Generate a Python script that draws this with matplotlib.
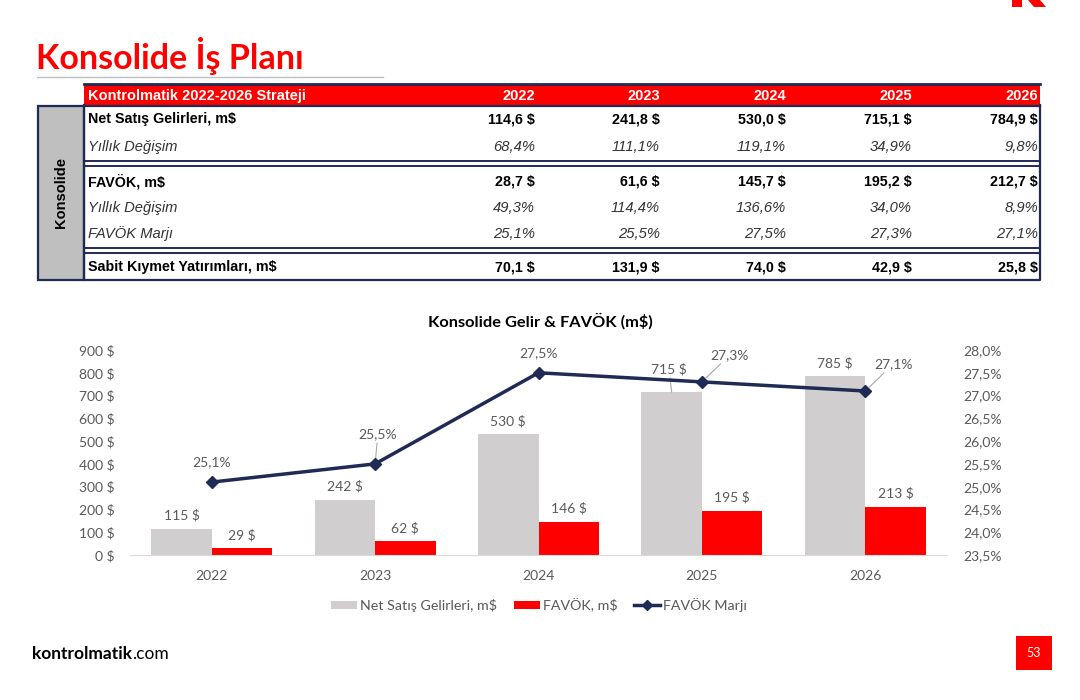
import matplotlib
matplotlib.use("Agg")
import matplotlib.pyplot as plt
from matplotlib.patches import Rectangle, Patch, Polygon
from matplotlib.lines import Line2D
from matplotlib.ticker import FuncFormatter, MultipleLocator
from matplotlib import transforms

# data
years = ["2022", "2023", "2024", "2025", "2026"]
revenue = [114.6, 241.8, 530.0, 715.1, 784.9]
rev_growth = [68.4, 111.1, 119.1, 34.9, 9.8]
favok = [28.7, 61.6, 145.7, 195.2, 212.7]
favok_growth = [49.3, 114.4, 136.6, 34.0, 8.9]
margin = [25.1, 25.5, 27.5, 27.3, 27.1]
capex = [70.1, 131.9, 74.0, 42.9, 25.8]

RED = "#FF0000"
NAVY = "#1F2A55"
GREY_BAR = "#D0CECE"
TXT = "#595959"


def tr(v, nd=1):
    return f"{v:.{nd}f}".replace(".", ",")


fig = plt.figure(figsize=(10.8, 7), dpi=100)
fig.patch.set_facecolor("white")

# slide layer in pixel coords
bg = fig.add_axes([0, 0, 1, 1])
bg.set_xlim(0, 1080)
bg.set_ylim(700, 0)
bg.axis("off")

# logo fragment top right
bg.add_patch(Polygon([[1012, 0], [1022, 0], [1022, 7], [1012, 7]], color=RED, lw=0))
bg.add_patch(Polygon([[1028, 0], [1040, 0], [1046, 7], [1034, 7]], color=RED, lw=0))

# title
bg.text(36, 56, "Konsolide İş Planı", color=RED, fontsize=24.5, fontweight="bold",
        family="Lato", va="center", ha="left")
bg.plot([37, 383], [77, 77], color="#BFBFBF", lw=1)

# ---- table ----
tf = "Liberation Sans"
x0, x1 = 84, 1040
bg.add_patch(Rectangle((x0, 84), x1 - x0, 21, facecolor=RED, edgecolor="none"))
bg.plot([x0, x1], [84, 84], color=NAVY, lw=2)
bg.text(x0 + 4, 96, "Kontrolmatik 2022-2026 Strateji", color="white", fontsize=10.5,
        fontweight="bold", family=tf, va="center")
col_right = [535, 660, 786, 912, 1038]
for xr, y in zip(col_right, years):
    bg.text(xr, 96, y, color="white", fontsize=10.5, fontweight="bold", family=tf,
            va="center", ha="right")

# left grey cell
bg.add_patch(Rectangle((38, 106), x0 - 38, 174, facecolor="#BFBFBF", edgecolor=NAVY, lw=1.6))
bg.text(61, 193, "Konsolide", rotation=90, fontsize=10.5, fontweight="bold", family=tf,
        va="center", ha="center")

# body borders
bg.plot([x0, x0, x1, x1], [105, 280, 280, 105], color=NAVY, lw=1.6)
bg.plot([x0, x1], [106, 106], color=NAVY, lw=1.6)
for ya, yb in [(160.5, 165.5), (247.5, 252.5)]:
    bg.plot([x0, x1], [ya, ya], color=NAVY, lw=1.4)
    bg.plot([x0, x1], [yb, yb], color=NAVY, lw=1.4)

rows = [
    ("Net Satış Gelirleri, m$", [tr(v) + " $" for v in revenue], 119, True),
    ("Yıllık Değişim", [tr(v) + "%" for v in rev_growth], 147, False),
    ("FAVÖK, m$", [tr(v) + " $" for v in favok], 182, True),
    ("Yıllık Değişim", [tr(v) + "%" for v in favok_growth], 208, False),
    ("FAVÖK Marjı", [tr(v) + "%" for v in margin], 234, False),
    ("Sabit Kıymet Yatırımları, m$", [tr(v) + " $" for v in capex], 267, True),
]
for label, vals, y, bold in rows:
    if bold:
        kw = dict(fontsize=10.3, family=tf, va="center", fontweight="bold", color="black")
    else:
        kw = dict(fontsize=10.6, family=tf, va="center", fontstyle="italic", color="#333333")
    bg.text(88, y, label, ha="left", **kw)
    for xr, s in zip(col_right, vals):
        bg.text(xr, y, s, ha="right", **kw)

# footer
t1 = bg.text(32, 654, "kontrolmatik", fontsize=12.5, fontweight="bold", family="Lato",
             va="center", ha="left")
fig.canvas.draw()
x_end = t1.get_window_extent().x1
bg.text(x_end, 654, ".com", fontsize=12.5, family="Lato", va="center", ha="left",
        transform=transforms.blended_transform_factory(
            transforms.IdentityTransform(), bg.transData))
bg.add_patch(Rectangle((1016, 636), 36, 34, facecolor=RED, edgecolor="none"))
bg.text(1034, 653, "53", color="white", fontsize=9, family="Lato", ha="center", va="center")

# ---- chart ----
L, R, B, T = 130, 947, 555, 350
ax = fig.add_axes([L / 1080, 1 - B / 700, (R - L) / 1080, (B - T) / 700])
ax.set_facecolor("none")
xs = list(range(len(years)))
w = 0.37
ax.bar([x - w / 2 for x in xs], revenue, width=w, color=GREY_BAR, zorder=2)
ax.bar([x + w / 2 for x in xs], favok, width=w, color=RED, zorder=2)
ax.set_xlim(-0.5, 4.5)
ax.set_ylim(0, 900)
ax.yaxis.set_major_locator(MultipleLocator(100))
ax.yaxis.set_major_formatter(FuncFormatter(lambda v, p: f"{v:.0f} $"))
ax.set_xticks(xs)
ax.set_xticklabels(years)
for s in ["top", "left", "right"]:
    ax.spines[s].set_visible(False)
ax.spines["bottom"].set_color("#D9D9D9")
ax.tick_params(axis="both", length=0, labelsize=10, labelcolor=TXT)
ax.tick_params(axis="y", pad=11)
ax.tick_params(axis="x", pad=11)
for lab in ax.get_xticklabels() + ax.get_yticklabels():
    lab.set_family("Lato")

lab_kw = dict(fontsize=10, color=TXT, family="Lato", ha="center", va="bottom")
for i, v in enumerate(revenue):
    if i == 3:
        ax.annotate(f"{v:.0f} $", xy=(i - w / 2, v), xytext=(-2, 12), textcoords="offset points",
                    arrowprops=dict(arrowstyle="-", color="#A6A6A6", lw=0.8,
                                    shrinkA=0, shrinkB=0), **lab_kw)
    else:
        ax.annotate(f"{v:.0f} $", xy=(i - w / 2, v), xytext=(0, 5), textcoords="offset points",
                    **lab_kw)
for i, v in enumerate(favok):
    ax.annotate(f"{v:.0f} $", xy=(i + w / 2, v), xytext=(0, 5), textcoords="offset points",
                **lab_kw)

ax2 = ax.twinx()
ax2.set_ylim(23.5, 28.0)
ax2.yaxis.set_major_locator(MultipleLocator(0.5))
ax2.yaxis.set_major_formatter(FuncFormatter(lambda v, p: tr(v) + "%"))
for s in ["top", "left", "right", "bottom"]:
    ax2.spines[s].set_visible(False)
ax2.tick_params(axis="y", length=0, labelsize=10, labelcolor=TXT, pad=12)
for lab in ax2.get_yticklabels():
    lab.set_family("Lato")
ax2.plot(xs, margin, color=NAVY, lw=2.5, marker="D", markersize=6.5,
         markerfacecolor=NAVY, markeredgecolor=NAVY, zorder=5)

m_offsets = [(0, 10), (2, 17), (0, 10), (20, 15), (20, 15)]
m_lead = [False, True, False, True, True]
for i, v in enumerate(margin):
    kw = dict(fontsize=10, color=TXT, family="Lato", ha="center", va="bottom")
    if m_lead[i]:
        ax2.annotate(tr(v) + "%", xy=(i, v), xytext=m_offsets[i], textcoords="offset points",
                     arrowprops=dict(arrowstyle="-", color="#A6A6A6", lw=0.8,
                                     shrinkA=0, shrinkB=4), **kw)
    else:
        ax2.annotate(tr(v) + "%", xy=(i, v), xytext=m_offsets[i], textcoords="offset points", **kw)

fig.text(540 / 1080, 1 - 321 / 700, "Konsolide Gelir & FAVÖK (m$)", fontsize=11.8,
         fontweight="bold", family="Lato", ha="center", va="center")

handles = [Patch(facecolor=GREY_BAR, edgecolor="none"),
           Patch(facecolor=RED, edgecolor="none"),
           Line2D([0], [0], color=NAVY, lw=2.5, marker="D", markersize=5)]
leg = fig.legend(handles, ["Net Satış Gelirleri, m$", "FAVÖK, m$", "FAVÖK Marjı"],
                 loc="center", bbox_to_anchor=(539 / 1080, 1 - 605 / 700), ncol=3,
                 frameon=False, handlelength=1.8, handleheight=0.5, columnspacing=1.2,
                 handletextpad=0.2, prop={"family": "Lato", "size": 10.3})
for t in leg.get_texts():
    t.set_color(TXT)

fig.savefig("out.png", dpi=100)
